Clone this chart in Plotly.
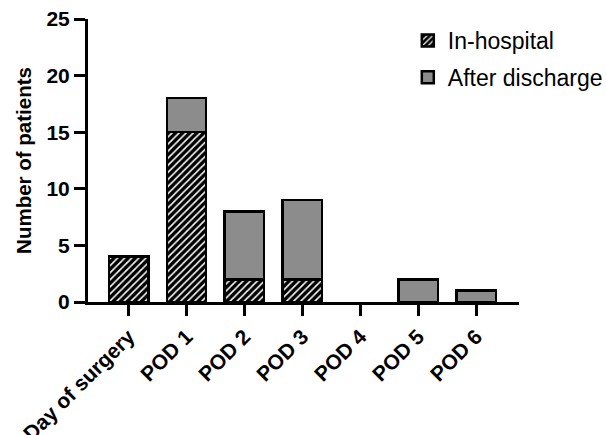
import plotly.graph_objects as go

categories = ["Day of surgery", "POD 1", "POD 2", "POD 3", "POD 4", "POD 5", "POD 6"]
in_hospital = [4, 15, 2, 2, 0, 0, 0]
after_discharge = [0, 3, 6, 7, 0, 2, 1]
y_ticks = [0, 5, 10, 15, 20, 25]

FONT = "Liberation Sans, Arial, sans-serif"

def nz(vals):
    return [v if v else None for v in vals]

fig = go.Figure()
fig.add_trace(go.Bar(
    x=categories, y=nz(in_hospital), name="In-hospital", legendgroup="a",
    marker=dict(color="black", line=dict(color="black", width=2.5),
                pattern=dict(shape="/", fgcolor="white", bgcolor="black", size=5, solidity=0.3, fillmode="replace")),
    width=0.68,
))
fig.add_trace(go.Bar(
    x=categories, y=nz(after_discharge), name="After discharge", legendgroup="b",
    marker=dict(color="#8c8c8c", line=dict(color="black", width=2.5)),
    width=0.68,
))

fig.update_layout(
    width=606, height=435,
    barmode="stack",
    paper_bgcolor="white", plot_bgcolor="white",
    margin=dict(l=88, r=87, t=19, b=133, autoexpand=False),
    font=dict(family=FONT, color="black"),
    showlegend=True,
    legend=dict(x=0.742, y=1.0, xanchor="left", yanchor="top",
                font=dict(size=23, family=FONT, color="black"),
                traceorder="grouped", tracegroupgap=4,
                bgcolor="rgba(0,0,0,0)"),
    xaxis=dict(
        range=[-0.7, 6.74], showline=True, linecolor="black", linewidth=3,
        ticks="outside", ticklen=11, tickwidth=3, tickcolor="black",
        tickangle=-45, tickfont=dict(size=21, family=FONT, color="black", weight="bold"),
        showgrid=False, zeroline=False, automargin=False,
    ),
    yaxis=dict(
        range=[0, 25], tickvals=y_ticks, showline=True, linecolor="black", linewidth=3,
        ticks="outside", ticklen=11, tickwidth=3, tickcolor="black",
        tickfont=dict(size=21, family=FONT, color="black", weight="bold"),
        showgrid=False, zeroline=False, automargin=False,
        title=dict(text="Number of patients", font=dict(size=20.5, family=FONT, color="black", weight="bold"), standoff=10),
    ),
)

fig.write_html("out.html", config={"displayModeBar": False},
               post_script="document.body.style.margin='0px';")
